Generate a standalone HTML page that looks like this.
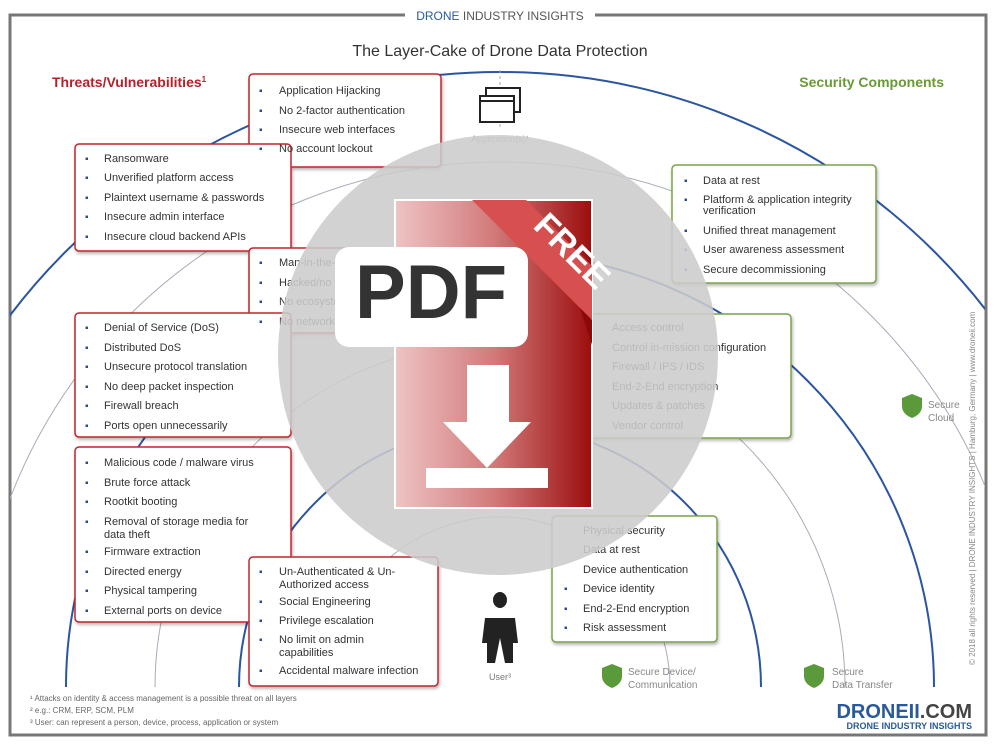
<!DOCTYPE html>
<html><head><meta charset="utf-8"><style>
html,body{margin:0;background:#fff;width:1000px;height:750px;overflow:hidden;}
svg{display:block;font-family:"Liberation Sans",sans-serif;}
.t{font-size:11px;fill:#333;}
.b{fill:#2a4a8a;font-size:10px;}
</style></head><body>
<svg width="1000" height="750" viewBox="0 0 1000 750">
<defs>
<clipPath id="c"><rect x="10" y="60" width="975" height="627"/></clipPath>
<linearGradient id="pg" x1="0" x2="1"><stop offset="0" stop-color="#eec4c4"/><stop offset="0.5" stop-color="#d27a7a"/><stop offset="1" stop-color="#9c0d0d"/></linearGradient>
<filter id="sh"><feDropShadow dx="1" dy="2" stdDeviation="1.5" flood-opacity="0.3"/></filter>
</defs>
<rect x="10" y="15" width="976" height="720" fill="none" stroke="#777" stroke-width="3"/>
<rect x="405" y="5" width="190" height="20" fill="#fff"/>
<text x="500" y="20" text-anchor="middle" font-size="12" fill="#555"><tspan fill="#2a5a9a">DRONE</tspan> INDUSTRY INSIGHTS</text>
<text x="500" y="56" text-anchor="middle" font-size="16" fill="#333">The Layer-Cake of Drone Data Protection</text>
<text x="52" y="87" font-size="14" font-weight="bold" fill="#b5212b">Threats/Vulnerabilities<tspan font-size="8" dy="-5">1</tspan></text>
<text x="944" y="87" text-anchor="end" font-size="14" font-weight="bold" fill="#6a9a35">Security Components</text>
<g clip-path="url(#c)" fill="none">
<circle cx="500" cy="687" r="615" stroke="#2a55a0" stroke-width="2"/>
<circle cx="500" cy="687" r="525" stroke="#aab" stroke-width="1"/>
<circle cx="500" cy="687" r="434" stroke="#2a55a0" stroke-width="2"/>
<circle cx="500" cy="687" r="345" stroke="#aab" stroke-width="1"/>
<circle cx="500" cy="687" r="261" stroke="#2a55a0" stroke-width="2"/>
<circle cx="500" cy="687" r="170" stroke="#aab" stroke-width="1"/>
</g>
<line x1="500" y1="70" x2="500" y2="130" stroke="#aaa" stroke-dasharray="3,3"/>
<rect x="486" y="88" width="34" height="24" fill="#fff" stroke="#222" stroke-width="2"/>
<rect x="480" y="96" width="34" height="26" fill="#fff" stroke="#222" stroke-width="2"/>
<line x1="480" y1="101" x2="514" y2="101" stroke="#222" stroke-width="2"/>
<text x="500" y="142" text-anchor="middle" font-size="9" fill="#999">Application(s)¹</text>
<text x="500" y="680" text-anchor="middle" font-size="9" fill="#777">User³</text>
<path d="M493 600 a7 8 0 1 1 14 0 a7 8 0 1 1 -14 0 M485 618 h30 l3 25 h-5 v20 h-8 l-5 -25 -5 25 h-8 v-20 h-5z" fill="#222"/>
<g fill="#5a9a3a"><path d="M902 398 l10 -4 10 4 v8 q0 8 -10 12 q-10 -4 -10 -12z"/>
<path d="M602 668 l10 -4 10 4 v8 q0 8 -10 12 q-10 -4 -10 -12z"/>
<path d="M804 668 l10 -4 10 4 v8 q0 8 -10 12 q-10 -4 -10 -12z"/></g>
<g font-size="10" fill="#888"><text x="928" y="408">Secure</text><text x="928" y="421">Cloud</text>
<text x="628" y="675">Secure Device/</text><text x="628" y="688">Communication</text>
<text x="832" y="675">Secure</text><text x="832" y="688">Data Transfer</text></g>
<g fill="#fff" stroke="#c0262d" stroke-width="1.5" filter="url(#sh)">
<rect x="249" y="74" width="192" height="93" rx="4"/>
<rect x="75" y="144" width="216" height="107" rx="4"/>
<rect x="249" y="248" width="120" height="85" rx="4"/>
<rect x="75" y="313" width="216" height="124" rx="4"/>
<rect x="75" y="447" width="216" height="175" rx="4"/>
<rect x="249" y="557" width="189" height="129" rx="4"/>
</g>
<g fill="#fff" stroke="#7aa34a" stroke-width="1.5" filter="url(#sh)">
<rect x="672" y="165" width="204" height="118" rx="4"/>
<rect x="578" y="314" width="213" height="124" rx="4"/>
<rect x="552" y="516" width="165" height="126" rx="4"/>
</g>
<g class="t">
<g><text x="279" y="94">Application Hijacking</text><text x="279" y="114">No 2-factor authentication</text><text x="279" y="133">Insecure web interfaces</text><text x="279" y="152">No account lockout</text></g>
<g><text x="104" y="162">Ransomware</text><text x="104" y="181">Unverified platform access</text><text x="104" y="201">Plaintext username &amp; passwords</text><text x="104" y="220">Insecure admin interface</text><text x="104" y="240">Insecure cloud backend APIs</text></g>
<g><text x="279" y="266">Man-in-the-middle</text><text x="279" y="286">Hacked/no encryption</text><text x="279" y="305">No ecosystem</text><text x="279" y="325">No network</text></g>
<g><text x="104" y="331">Denial of Service (DoS)</text><text x="104" y="351">Distributed DoS</text><text x="104" y="370">Unsecure protocol translation</text><text x="104" y="390">No deep packet inspection</text><text x="104" y="409">Firewall breach</text><text x="104" y="429">Ports open unnecessarily</text></g>
<g><text x="104" y="466">Malicious code / malware virus</text><text x="104" y="486">Brute force attack</text><text x="104" y="505">Rootkit booting</text><text x="104" y="525">Removal of storage media for</text><text x="104" y="538">data theft</text><text x="104" y="555">Firmware extraction</text><text x="104" y="575">Directed energy</text><text x="104" y="594">Physical tampering</text><text x="104" y="614">External ports on device</text></g>
<g><text x="279" y="575">Un-Authenticated &amp; Un-</text><text x="279" y="588">Authorized access</text><text x="279" y="605">Social Engineering</text><text x="279" y="624">Privilege escalation</text><text x="279" y="643">No limit on admin</text><text x="279" y="656">capabilities</text><text x="279" y="674">Accidental malware infection</text></g>
<g><text x="703" y="184">Data at rest</text><text x="703" y="203">Platform &amp; application integrity</text><text x="703" y="214">verification</text><text x="703" y="234">Unified threat management</text><text x="703" y="253">User awareness assessment</text><text x="703" y="273">Secure decommissioning</text></g>
<g><text x="612" y="331">Access control</text><text x="612" y="351">Control in-mission configuration</text><text x="612" y="370">Firewall / IPS / IDS</text><text x="612" y="390">End-2-End encryption</text><text x="612" y="409">Updates &amp; patches</text><text x="612" y="429">Vendor control</text></g>
<g><text x="583" y="534">Physical security</text><text x="583" y="553">Data at rest</text><text x="583" y="573">Device authentication</text><text x="583" y="592">Device identity</text><text x="583" y="612">End-2-End encryption</text><text x="583" y="631">Risk assessment</text></g>
</g>
<g class="b">
<text x="259" y="94">▪</text><text x="259" y="114">▪</text><text x="259" y="133">▪</text><text x="259" y="152">▪</text>
<text x="85" y="162">▪</text><text x="85" y="181">▪</text><text x="85" y="201">▪</text><text x="85" y="220">▪</text><text x="85" y="240">▪</text>
<text x="259" y="266">▪</text><text x="259" y="286">▪</text><text x="259" y="305">▪</text><text x="259" y="325">▪</text>
<text x="85" y="331">▪</text><text x="85" y="351">▪</text><text x="85" y="370">▪</text><text x="85" y="390">▪</text><text x="85" y="409">▪</text><text x="85" y="429">▪</text>
<text x="85" y="466">▪</text><text x="85" y="486">▪</text><text x="85" y="505">▪</text><text x="85" y="525">▪</text><text x="85" y="555">▪</text><text x="85" y="575">▪</text><text x="85" y="594">▪</text><text x="85" y="614">▪</text>
<text x="259" y="575">▪</text><text x="259" y="605">▪</text><text x="259" y="624">▪</text><text x="259" y="643">▪</text><text x="259" y="674">▪</text>
<text x="684" y="184">▪</text><text x="684" y="203">▪</text><text x="684" y="234">▪</text><text x="684" y="253">▪</text><text x="684" y="273">▪</text>
<text x="564" y="592">▪</text><text x="564" y="612">▪</text><text x="564" y="631">▪</text>
</g>
<circle cx="498" cy="355" r="220" fill="#cccccc" opacity="0.88"/>
<rect x="395" y="200" width="197" height="308" fill="url(#pg)" stroke="#fff" stroke-width="2"/>
<polygon points="472,200 526,200 592,266 592,320" fill="#d5504f"/>
<polygon points="580,308 592,320 592,345" fill="#8a0a0a"/>
<text x="0" y="0" font-size="34" font-weight="bold" fill="#fff" transform="translate(532,227) rotate(45)">FREE</text>
<rect x="335" y="247" width="193" height="100" rx="14" fill="#fff"/>
<text x="431" y="318" text-anchor="middle" font-size="76" font-weight="bold" fill="#333">PDF</text>
<rect x="467" y="365" width="42" height="60" fill="#fff"/>
<polygon points="443,422 531,422 487,468" fill="#fff"/>
<rect x="426" y="468" width="122" height="20" fill="#fff"/>
<g font-size="8" fill="#666"><text x="30" y="701">¹ Attacks on identity &amp; access management is a possible threat on all layers</text>
<text x="30" y="713">² e.g.: CRM, ERP, SCM, PLM</text><text x="30" y="725">³ User: can represent a person, device, process, application or system</text></g>
<text x="972" y="718" text-anchor="end" font-size="20" font-weight="bold" fill="#2a5a9a">DRONEII<tspan fill="#444">.COM</tspan></text>
<text x="972" y="729" text-anchor="end" font-size="9" font-weight="bold" fill="#2a5a9a">DRONE INDUSTRY INSIGHTS</text>
<text transform="translate(975,665) rotate(-90)" font-size="8" fill="#888">© 2018 all rights reserved | DRONE INDUSTRY INSIGHTS | Hamburg, Germany | www.droneii.com</text>
</svg>
</body></html>
